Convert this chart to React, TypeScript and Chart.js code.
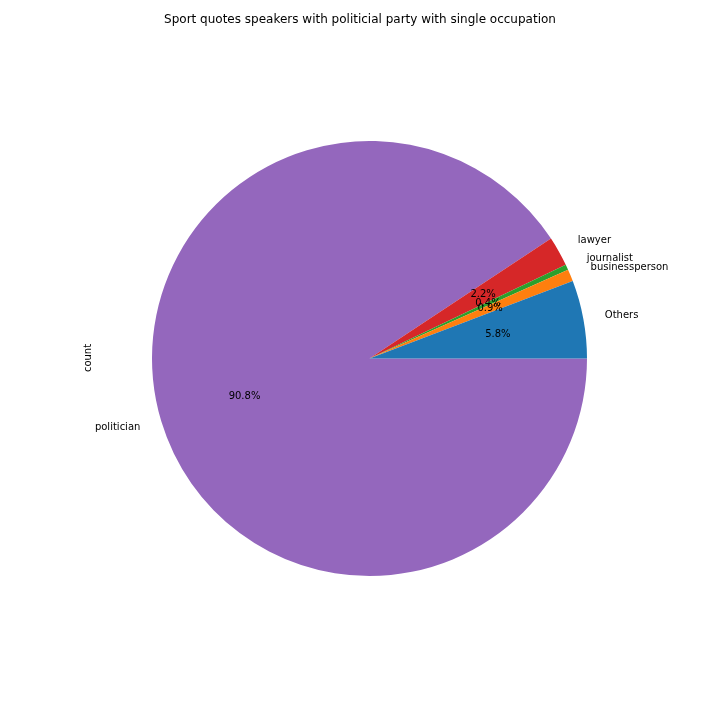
import React, { useEffect, useRef } from "react";
import { Chart, registerables } from "chart.js";

Chart.register(...registerables);

const categories = ["Others", "businessperson", "journalist", "lawyer", "politician"];
const percentValues = [5.8, 0.9, 0.4, 2.2, 90.8];
const sliceColors = ["#1f77b4", "#ff7f0e", "#2ca02c", "#d62728", "#9467bd"];
const titleText = "Sport quotes speakers with politicial party with single occupation";
const yLabelText = "count";

const FONT = "'DejaVu Sans', sans-serif";

const textPlugin = {
  id: "mplText",
  afterDraw(chart: any) {
    const ctx = chart.ctx;
    const meta = chart.getDatasetMeta(0);
    const labels = chart.data.labels as string[];
    const data = chart.data.datasets[0].data as number[];
    ctx.save();
    ctx.fillStyle = "#000";
    meta.data.forEach((arc: any, i: number) => {
      const { x, y, startAngle, endAngle, outerRadius } = arc.getProps(
        ["x", "y", "startAngle", "endAngle", "outerRadius"],
        true
      );
      const mid = (startAngle + endAngle) / 2;
      const c = Math.cos(mid);
      const s = Math.sin(mid);
      ctx.font = `10px ${FONT}`;
      ctx.textBaseline = "middle";
      ctx.textAlign = c > 0 ? "left" : "right";
      ctx.fillText(labels[i], x + 1.1 * outerRadius * c, y + 1.1 * outerRadius * s);
      ctx.textAlign = "center";
      ctx.fillText(data[i].toFixed(1) + "%", x + 0.6 * outerRadius * c, y + 0.6 * outerRadius * s);
    });
    ctx.font = `12px ${FONT}`;
    ctx.textAlign = "center";
    ctx.textBaseline = "middle";
    ctx.fillText(titleText, 360, 20);
    ctx.font = `10px ${FONT}`;
    ctx.translate(88, 358);
    ctx.rotate(-Math.PI / 2);
    ctx.fillText(yLabelText, 0, 0);
    ctx.restore();
  },
};

export default function App() {
  const ref = useRef<HTMLCanvasElement | null>(null);
  useEffect(() => {
    if (!ref.current) return;
    const order = [...categories.keys()].reverse();
    const chart = new Chart(ref.current, {
      type: "pie",
      data: {
        labels: order.map((i) => categories[i]),
        datasets: [
          {
            data: order.map((i) => percentValues[i]),
            backgroundColor: order.map((i) => sliceColors[i]),
            borderWidth: 0,
          },
        ],
      },
      options: {
        responsive: false,
        animation: false,
        rotation: 90,
        layout: { padding: { left: 152, top: 141, right: 133, bottom: 144 } },
        plugins: {
          legend: { display: false },
          title: { display: false },
          tooltip: { enabled: false },
        },
      },
      plugins: [textPlugin],
    });
    return () => chart.destroy();
  }, []);
  return (
    <div style={{ position: "fixed", left: 0, top: 0, width: 720, height: 720, background: "#fff" }}>
      <canvas ref={ref} width={720} height={720} />
    </div>
  );
}
